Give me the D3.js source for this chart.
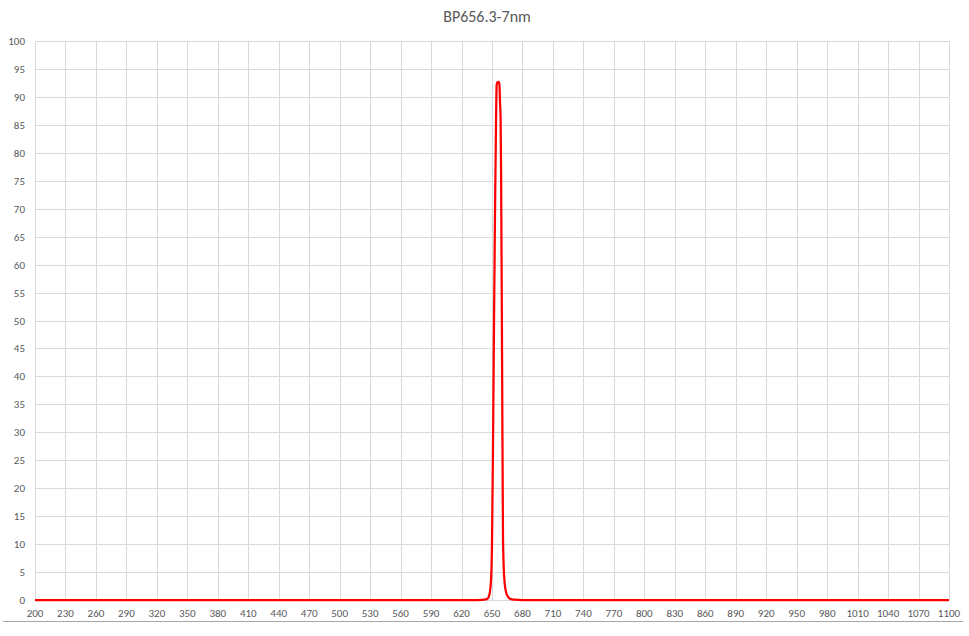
<!DOCTYPE html>
<html><head><meta charset="utf-8">
<script src="https://cdn.jsdelivr.net/npm/d3@7"></script>
<style>body{margin:0;background:#fff;}svg{display:block;font-family:Calibri,Carlito,"Open Sans","Liberation Sans",sans-serif;}</style>
</head><body>
<script>
const title = "BP656.3-7nm";
const wavelengths = [200,400,600,630,640,644,646,647,648,649,649.7,650,651,652,653,654,654.6,655.3,656.5,657.3,657.9,658.5,659,660,660.8,661.5,662.5,664,666,668,672,680,700,900,1100];
const transmission = [0,0,0,0,0.03,0.1,0.3,0.7,1.5,3.5,7,10,28,50,70,86,92.2,92.6,92.7,92.2,89,86,75,40,12,6,3,1.3,0.5,0.2,0.05,0,0,0,0];
const xTicks = d3.range(200,1101,30);
const yTicks = d3.range(0,101,5);

const W=969,H=636;
const svg=d3.select("body").append("svg").attr("width",W).attr("height",H);
const x=d3.scaleLinear().domain([200,1100]).range([35,949]);
const y=d3.scaleLinear().domain([0,100]).range([600,41]);

// gridlines
svg.append("g").selectAll("line").data(yTicks).join("line")
 .attr("x1",35).attr("x2",949).attr("y1",d=>Math.round(y(d))+0.5).attr("y2",d=>Math.round(y(d))+0.5)
 .attr("stroke","#d9d9d9").attr("stroke-width",1);
svg.append("g").selectAll("line").data(xTicks).join("line")
 .attr("x1",d=>Math.round(x(d))+0.5).attr("x2",d=>Math.round(x(d))+0.5).attr("y1",41).attr("y2",600)
 .attr("stroke","#d9d9d9").attr("stroke-width",1);

// y labels
svg.append("g").selectAll("text").data(yTicks).join("text")
 .attr("x",25).attr("y",d=>y(d)+4).attr("text-anchor","end")
 .attr("font-size",11).attr("fill","#595959").text(d=>d);
// x labels
svg.append("g").selectAll("text").data(xTicks).join("text")
 .attr("x",d=>x(d)).attr("y",617).attr("text-anchor","middle")
 .attr("font-size",11).attr("fill","#595959").text(d=>d);

// bottom frame line
svg.append("line").attr("x1",3).attr("x2",963).attr("y1",621.5).attr("y2",621.5).attr("stroke","#a6a6a6").attr("stroke-width",1);

// title
svg.append("text").attr("x",487).attr("y",22).attr("text-anchor","middle")
 .attr("font-size",16).attr("fill","#595959").text(title);

// curve
const data=wavelengths.map((w,i)=>[w,transmission[i]]);
svg.append("path").datum(data)
 .attr("d",d3.line().x(d=>x(d[0])).y(d=>y(d[1])).curve(d3.curveMonotoneX))
 .attr("fill","none").attr("stroke","#ff0000").attr("stroke-width",2.25).attr("stroke-linejoin","round");
</script>
</body></html>
